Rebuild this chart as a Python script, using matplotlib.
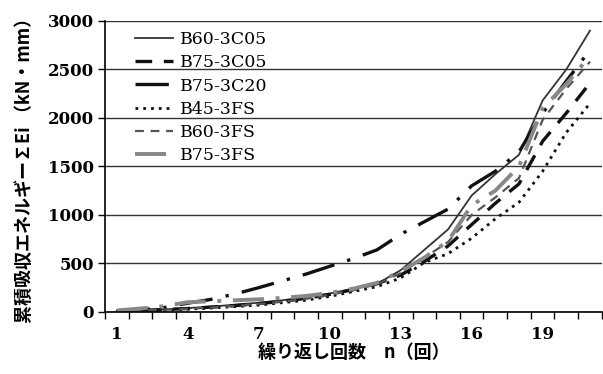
import matplotlib
matplotlib.use("Agg")
import matplotlib.pyplot as plt
import numpy as np

n = list(range(1, 22))

b60_3c05 = [10, 15, 25, 40, 55, 75, 95, 120, 150, 190, 240, 290, 430, 640, 850, 1200, 1420, 1620, 2180, 2500, 2900]
b75_3c05 = [10, 15, 25, 35, 50, 65, 85, 110, 140, 180, 230, 290, 380, 520, 680, 900, 1120, 1320, 1760, 2050, 2360]
b75_3c20 = [10, 20, 45, 90, 130, 185, 250, 320, 390, 470, 550, 640, 800, 930, 1060, 1300, 1450, 1650, 2050, 2380, 2700]
b45_3fs = [5, 10, 18, 28, 40, 55, 70, 95, 120, 160, 210, 260, 350, 510, 600, 760, 960, 1130, 1450, 1850, 2150]
b60_3fs = [8, 14, 22, 32, 45, 62, 80, 105, 135, 175, 225, 285, 400, 560, 720, 1000, 1180, 1380, 1980, 2300, 2580]
b75_3fs = [15, 35, 60, 100, 110, 120, 130, 145, 165, 195, 240, 300, 420, 560, 730, 1100, 1250, 1500, 2100, 2350, 2640]

labels = ["B60-3C05", "B75-3C05", "B75-3C20", "B45-3FS", "B60-3FS", "B75-3FS"]
xticklabels = ["1", "4", "7", "10", "13", "16", "19"]
yticks = [0, 500, 1000, 1500, 2000, 2500, 3000]

fig = plt.figure(figsize=(6.03, 3.74), dpi=100)
ax = fig.add_axes([0.174, 0.166, 0.824, 0.778])

ax.plot(n, b60_3c05, color="#333333", lw=1.3, ls="-", label=labels[0])
ax.plot(n, b75_3c05, color="#111111", lw=2.4, ls=(0, (5, 3.5)), label=labels[1])
ax.plot(n, b75_3c20, color="#111111", lw=2.4, ls=(0, (10, 4, 1, 4)), label=labels[2])
ax.plot(n, b45_3fs, color="#111111", lw=2.0, ls=(0, (1, 1.8)), label=labels[3])
ax.plot(n, b60_3fs, color="#555555", lw=1.6, ls=(0, (4, 3)), label=labels[4])
ax.plot(n, b75_3fs, color="#888888", lw=2.8, ls=(0, (8, 3, 1, 3)), label=labels[5])

ax.set_xlim(0.5, 21.5)
ax.set_ylim(0, 3000)
ax.set_yticks(yticks)
ax.set_yticklabels([str(v) for v in yticks])
ax.set_xticks([int(t) for t in xticklabels])
ax.set_xticklabels(xticklabels)
ax.set_xticks(np.arange(0.5, 22, 1.0), minor=True)
ax.tick_params(axis="x", which="major", length=0, pad=10)
ax.tick_params(axis="x", which="minor", length=5, width=1, direction="out")
ax.tick_params(axis="y", which="major", length=5, width=1, direction="out", pad=3)
for lab in ax.get_xticklabels() + ax.get_yticklabels():
    lab.set_family("DejaVu Serif")
    lab.set_fontweight("bold")
    lab.set_fontsize(12)

ax.yaxis.grid(True, color="#333333", lw=1.0)
ax.set_axisbelow(True)
for s in ["top", "right"]:
    ax.spines[s].set_visible(False)
ax.spines["left"].set_linewidth(1.2)
ax.spines["bottom"].set_linewidth(1.2)

ax.set_xlabel("繰り返し回数　n（回）", family=["Noto Sans CJK JP", "DejaVu Sans"],
              fontweight="bold", fontsize=13, labelpad=0)
ax.set_ylabel("累積吸収エネルギー∑Ei （kN・mm）", family=["Noto Sans CJK JP", "DejaVu Sans"],
              fontweight="bold", fontsize=13, labelpad=10)

leg = ax.legend(loc="upper left", bbox_to_anchor=(0.04, 1.0), frameon=False,
                prop={"family": "DejaVu Serif", "size": 12.5}, handlelength=2.2,
                handletextpad=0.4, labelspacing=0.35, borderaxespad=0.2)

fig.savefig("out.png", dpi=100)
